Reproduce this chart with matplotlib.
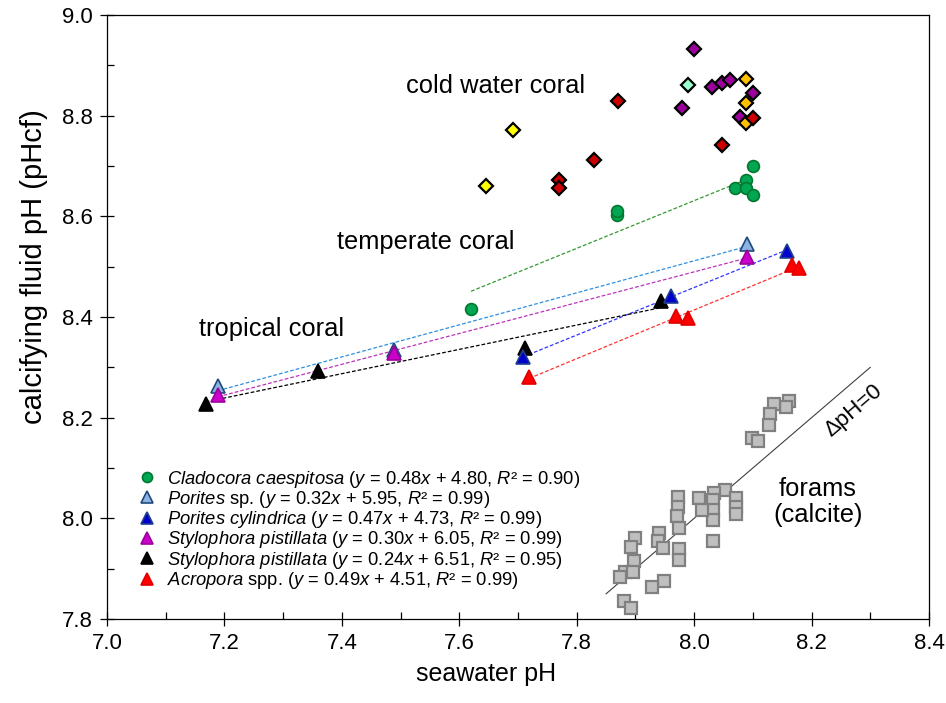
import numpy as np
import matplotlib
matplotlib.use('Agg')
import matplotlib.pyplot as plt
from matplotlib.ticker import MultipleLocator

plt.rcParams['font.family'] = ['Liberation Sans', 'DejaVu Sans']
plt.rcParams['mathtext.fontset'] = 'custom'
plt.rcParams['mathtext.rm'] = 'Liberation Sans'
plt.rcParams['mathtext.it'] = 'Liberation Sans:italic'
plt.rcParams['mathtext.bf'] = 'Liberation Sans:bold'

# ---------------- data ----------------
# temperate coral
clad_x = [7.620, 7.869, 7.869, 8.069, 8.089, 8.089, 8.100, 8.100]
clad_y = [8.416, 8.603, 8.610, 8.657, 8.672, 8.657, 8.700, 8.642]

# tropical corals
porsp_x = [7.189, 7.489, 8.090]
porsp_y = [8.263, 8.335, 8.545]

porcyl_x = [7.709, 7.960, 8.158]
porcyl_y = [8.320, 8.442, 8.532]

stylo1_x = [7.189, 7.489, 8.090]
stylo1_y = [8.245, 8.328, 8.519]

stylo2_x = [7.168, 7.359, 7.712, 7.943]
stylo2_y = [8.227, 8.293, 8.338, 8.432]

acro_x = [7.719, 7.969, 7.990, 8.166, 8.179]
acro_y = [8.281, 8.401, 8.399, 8.503, 8.497]

legend_labels = [
    r"$\it{Cladocora\ caespitosa}$ ($\it{y}$ = 0.48$\it{x}$ + 4.80, $\it{R}$² = 0.90)",
    r"$\it{Porites}$ sp. ($\it{y}$ = 0.32$\it{x}$ + 5.95, $\it{R}$² = 0.99)",
    r"$\it{Porites\ cylindrica}$ ($\it{y}$ = 0.47$\it{x}$ + 4.73, $\it{R}$² = 0.99)",
    r"$\it{Stylophora\ pistillata}$ ($\it{y}$ = 0.30$\it{x}$ + 6.05, $\it{R}$² = 0.99)",
    r"$\it{Stylophora\ pistillata}$ ($\it{y}$ = 0.24$\it{x}$ + 6.51, $\it{R}$² = 0.95)",
    r"$\it{Acropora}$ spp. ($\it{y}$ = 0.49$\it{x}$ + 4.51, $\it{R}$² = 0.99)",
]

# cold water corals (diamonds)
cw_yellow_x = [7.691, 7.645]
cw_yellow_y = [8.772, 8.660]
cw_purple_x = [8.000, 7.979, 8.030, 8.048, 8.061, 8.100, 8.078]
cw_purple_y = [8.932, 8.816, 8.856, 8.864, 8.871, 8.846, 8.797]
cw_aqua_x = [7.990]
cw_aqua_y = [8.860]
cw_orange_x = [8.089, 8.089, 8.089]
cw_orange_y = [8.872, 8.825, 8.785]
cw_red_x = [7.870, 7.830, 7.770, 7.770, 8.100, 8.048]
cw_red_y = [8.829, 8.712, 8.672, 8.657, 8.795, 8.742]

# forams (calcite)
foram_x = [8.161, 8.157, 8.136, 8.129, 8.127, 8.099, 8.109, 8.052, 8.034, 8.072,
           8.009, 8.072, 8.072, 8.032, 8.032, 8.032, 8.013, 8.032, 7.973, 7.973,
           7.970, 7.974, 7.975, 7.975, 7.940, 7.939, 7.947, 7.899, 7.892, 7.897,
           7.882, 7.873, 7.896, 7.948, 7.928, 7.881, 7.892]
foram_y = [8.233, 8.222, 8.227, 8.207, 8.185, 8.159, 8.154, 8.056, 8.050, 8.040,
           8.041, 8.023, 8.009, 8.036, 8.016, 7.997, 8.016, 7.954, 8.042, 8.023,
           8.005, 7.980, 7.940, 7.917, 7.971, 7.954, 7.942, 7.960, 7.944, 7.916,
           7.894, 7.883, 7.894, 7.875, 7.864, 7.836, 7.821]

# delta pH = 0 reference line extent
ref_x = [7.85, 8.30]

# ---------------- figure ----------------
fig = plt.figure(figsize=(9.46, 7.03), dpi=100)
ax = fig.add_axes([107/946, 1-619/703, (929-107)/946, (619-15)/703])

coral_series = [
    (clad_x, clad_y, 'o', '#00a651', '#00782f', '#339933', 8.5),
    (porsp_x, porsp_y, '^', '#8db3e2', '#1f497d', '#2f8fdf', 10),
    (porcyl_x, porcyl_y, '^', '#0000cc', '#1f3f8f', '#3333ff', 10),
    (stylo1_x, stylo1_y, '^', '#cc00cc', '#9a009a', '#bb33bb', 10),
    (stylo2_x, stylo2_y, '^', '#000000', '#000000', '#000000', 10),
    (acro_x, acro_y, '^', '#ff0000', '#e00000', '#ff3333', 10),
]

# regression lines
for xs, ys, mk, fc, ec, lc, ms in coral_series:
    xs_a = np.array(xs); ys_a = np.array(ys)
    k, b = np.polyfit(xs_a, ys_a, 1)
    xl = np.array([xs_a.min(), xs_a.max()])
    ax.plot(xl, k*xl + b, color=lc, lw=0.9, ls=(0, (3, 1.6)), zorder=2)

# points (order so that magenta covers light blue)
draw_order = [0, 1, 4, 2, 3, 5]
handles = [None]*6
for i in draw_order:
    xs, ys, mk, fc, ec, lc, ms = coral_series[i]
    h, = ax.plot(xs, ys, ls='none', marker=mk, ms=ms, mfc=fc, mec=ec, mew=1.2,
                 zorder=4)
    handles[i] = h

# cold water corals
for xs, ys, fc in [(cw_yellow_x, cw_yellow_y, '#ffff00'),
                   (cw_purple_x, cw_purple_y, '#9c009c'),
                   (cw_aqua_x, cw_aqua_y, '#99ffcc'),
                   (cw_orange_x, cw_orange_y, '#ffc000'),
                   (cw_red_x, cw_red_y, '#cc0000')]:
    ax.plot(xs, ys, ls='none', marker='D', ms=7.5, mfc=fc, mec='black', mew=1.6,
            zorder=4)

# forams
ax.plot(foram_x, foram_y, ls='none', marker='s', ms=8.5, mfc='#bfbfbf',
        mec='#808080', mew=1.6, zorder=3)

# delta pH = 0 line
ax.plot(ref_x, ref_x, color='#404040', lw=0.8, zorder=2)

# annotations
ax.text(7.662, 8.859, 'cold water coral', fontsize=18.4, ha='center', va='center')
ax.text(7.543, 8.549, 'temperate coral', fontsize=18.4, ha='center', va='center')
ax.text(7.281, 8.376, 'tropical coral', fontsize=18.4, ha='center', va='center')
ax.text(8.211, 8.032, 'forams\n(calcite)', fontsize=18.4, ha='center', va='center',
        linespacing=1.1)
ax.text(8.272, 8.213, '\u0394pH=0', fontsize=16, ha='center', va='center',
        rotation=40.6, rotation_mode='anchor')

leg = ax.legend(handles, legend_labels, loc='upper left',
                bbox_to_anchor=(0.037, 0.249), frameon=False, fontsize=13.2,
                handletextpad=0.6, handlelength=1.0, labelspacing=-0.04,
                borderaxespad=0, borderpad=0, markerscale=0.85)

# axes formatting
ax.set_xlim(7.0, 8.4)
ax.set_ylim(7.8, 9.0)
ax.xaxis.set_major_locator(MultipleLocator(0.2))
ax.xaxis.set_minor_locator(MultipleLocator(0.1))
ax.yaxis.set_major_locator(MultipleLocator(0.2))
ax.yaxis.set_minor_locator(MultipleLocator(0.1))
ax.xaxis.set_major_formatter(matplotlib.ticker.FormatStrFormatter('%.1f'))
ax.yaxis.set_major_formatter(matplotlib.ticker.FormatStrFormatter('%.1f'))
ax.tick_params(which='major', direction='inout', length=10, width=0.9,
               labelsize=16, pad=5)
ax.tick_params(which='minor', direction='in', length=5, width=0.9)
ax.tick_params(top=False, right=False, which='both')
for sp in ax.spines.values():
    sp.set_linewidth(0.9)
ax.set_xlabel('seawater pH', fontsize=18)
ax.xaxis.set_label_coords(0.461, -0.072)
ax.set_ylabel('calcifying fluid pH (pHcf)', fontsize=21)
ax.yaxis.set_label_coords(-0.072, 0.583)

fig.savefig('out.png', dpi=100)
